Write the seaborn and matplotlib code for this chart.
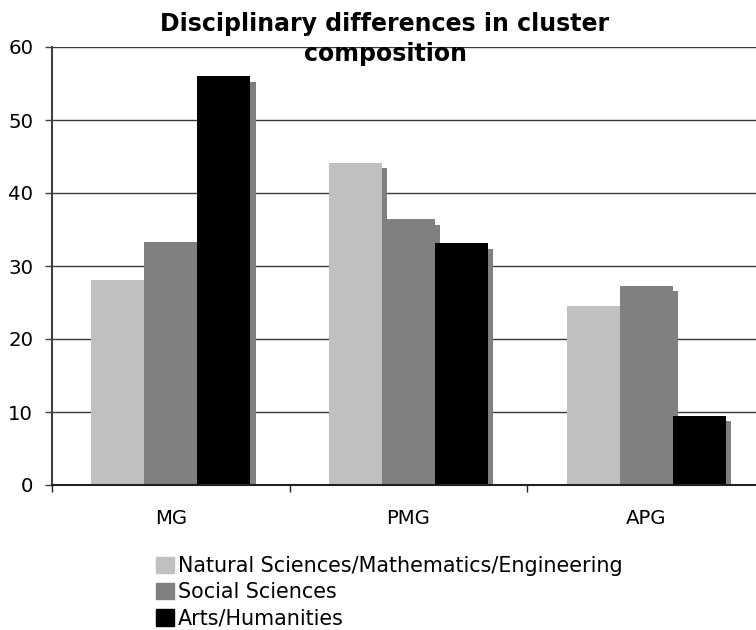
import pandas as pd
import matplotlib
matplotlib.use("Agg")
import matplotlib.pyplot as plt
import matplotlib.patheffects as pe
import seaborn as sns

# values
groups = ["MG", "PMG", "APG"]
disciplines = ["Natural Sciences/Mathematics/Engineering", "Social Sciences", "Arts/Humanities"]
natural = [28.1, 44.1, 24.5]
social = [33.3, 36.4, 27.3]
arts = [56.0, 33.1, 9.5]
y_ticks = [0, 10, 20, 30, 40, 50, 60]

df = pd.DataFrame({
    "group": groups * 3,
    "discipline": [d for d in disciplines for _ in groups],
    "value": natural + social + arts,
})

sns.set_theme(style="white")
plt.rcParams["font.family"] = ["DejaVu Sans"]
plt.rcParams["text.color"] = "black"
plt.rcParams["xtick.color"] = "black"
plt.rcParams["ytick.color"] = "black"

fig = plt.figure(figsize=(7.56, 6.3), dpi=100)
ax = fig.add_axes([52 / 756, 145 / 630, 713 / 756, 438 / 630])

palette = ["#c0c0c0", "#808080", "#000000"]
sns.barplot(data=df, x="group", y="value", hue="discipline", order=groups,
            hue_order=disciplines, palette=palette, width=0.67, saturation=1,
            linewidth=0, ax=ax, legend=False)

# Excel-style drop shadow on every bar
shadow = [pe.SimplePatchShadow(offset=(3.7, -3.9), shadow_rgbFace="#808080", alpha=1), pe.Normal()]
for cont in ax.containers:
    for bar in cont:
        bar.set_path_effects(shadow)

ax.set_ylim(0, 60)
ax.set_xlim(-0.5, 2.5)
ax.set_yticks(y_ticks)
ax.set_xlabel("")
ax.set_ylabel("")
ax.yaxis.grid(True, color="#3a3a3a", linewidth=1)
ax.set_axisbelow(True)

for side in ["top", "right"]:
    ax.spines[side].set_visible(False)
ax.spines["left"].set_color("#404040")
ax.spines["left"].set_linewidth(1.5)
ax.spines["bottom"].set_color("#202020")
ax.spines["bottom"].set_linewidth(1.5)

ax.tick_params(axis="y", length=5, width=1, color="#404040", labelsize=14.2, pad=8.5,
               direction="out", left=True, labelcolor="black")
ax.tick_params(axis="x", which="major", length=0, labelsize=14.2, pad=17, labelcolor="black")
ax.set_xticks([-0.5, 0.5, 1.5, 2.5], minor=True)
ax.tick_params(axis="x", which="minor", length=5, width=1, color="#202020", direction="out", bottom=True)

fig.text(385 / 756, 1 - 39 / 630, "Disciplinary differences in cluster\ncomposition",
         ha="center", va="center", fontsize=17, fontweight="bold", linespacing=1.28,
         color="black")

handles = [plt.Rectangle((0, 0), 1, 1, color=c) for c in palette]
fig.legend(handles, disciplines, loc="upper left", bbox_to_anchor=(156 / 756, 1 - 556 / 630),
           frameon=False, fontsize=14.9, handlelength=0.85, handleheight=0.85,
           handletextpad=0.2, labelspacing=0.3, borderpad=0, borderaxespad=0)

fig.savefig("out.png", dpi=100)
